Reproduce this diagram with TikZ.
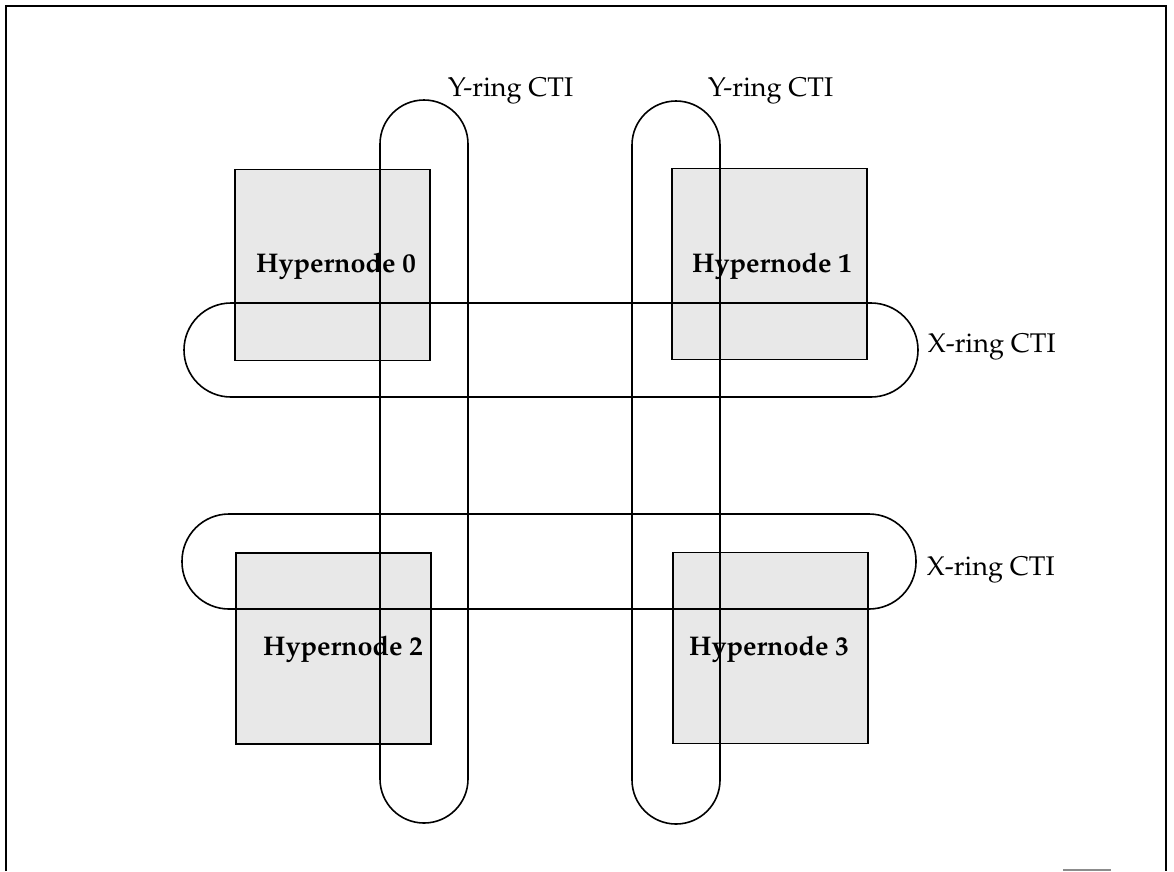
\documentclass[tikz,border=0pt]{standalone}
\usepackage[T1]{fontenc}
\usepackage{mathpazo}
\begin{document}
\begin{tikzpicture}[x=1pt,y=-1pt,
  line width=1.6pt,
  hyperbox/.style={draw=black, fill=black!9, inner sep=0pt, outer sep=0pt,
    minimum width=195pt, minimum height=191pt},
  ring/.style={draw=black, inner sep=0pt, outer sep=0pt, rounded corners=#1},
  ringlabel/.style={anchor=base west, inner sep=0pt, font=\fontsize{27}{32}\selectfont},
  hyperlabel/.style={anchor=base, inner sep=0pt, font=\fontsize{27}{32}\selectfont\bfseries}]
\useasboundingbox (0,0) rectangle (1174,871);
\fill[white] (0,0) rectangle (1174,871);

% page frame, open at the bottom
\draw[line width=2pt] (6,871) -- (6,6) -- (1166,6) -- (1166,871);
\draw[black!45, line width=1.5pt] (1063,870) -- (1111,870);

% hypernodes
\node[hyperbox] (h0) at (332.5,265) {};
\node[hyperbox] (h1) at (769.5,264) {};
\node[hyperbox] (h2) at (333.5,648.5) {};
\node[hyperbox] (h3) at (770.5,648) {};

% CTI rings
\node[ring=44pt, minimum width=88pt, minimum height=723pt] (yl) at (424,461.5) {};
\node[ring=44pt, minimum width=88pt, minimum height=723pt] (yr) at (676,462.5) {};
\node[ring=47pt, minimum width=734pt, minimum height=94pt] (xt) at (551,350) {};
\node[ring=47pt, minimum width=734pt, minimum height=95pt] (xb) at (549,561.5) {};

% labels
\node[hyperlabel] (l0) at (336,272) {Hypernode 0};
\node[hyperlabel] (l1) at (772,272) {Hypernode 1};
\node[hyperlabel] (l2) at (343,655) {Hypernode 2};
\node[hyperlabel] (l3) at (769,655) {Hypernode 3};

\node[ringlabel] (tyl) at (447,96) {Y-ring CTI};
\node[ringlabel] (tyr) at (707,96) {Y-ring CTI};
\node[ringlabel] (txt) at (927,352) {X-ring CTI};
\node[ringlabel] (txb) at (926,575) {X-ring CTI};
\end{tikzpicture}
\end{document}
